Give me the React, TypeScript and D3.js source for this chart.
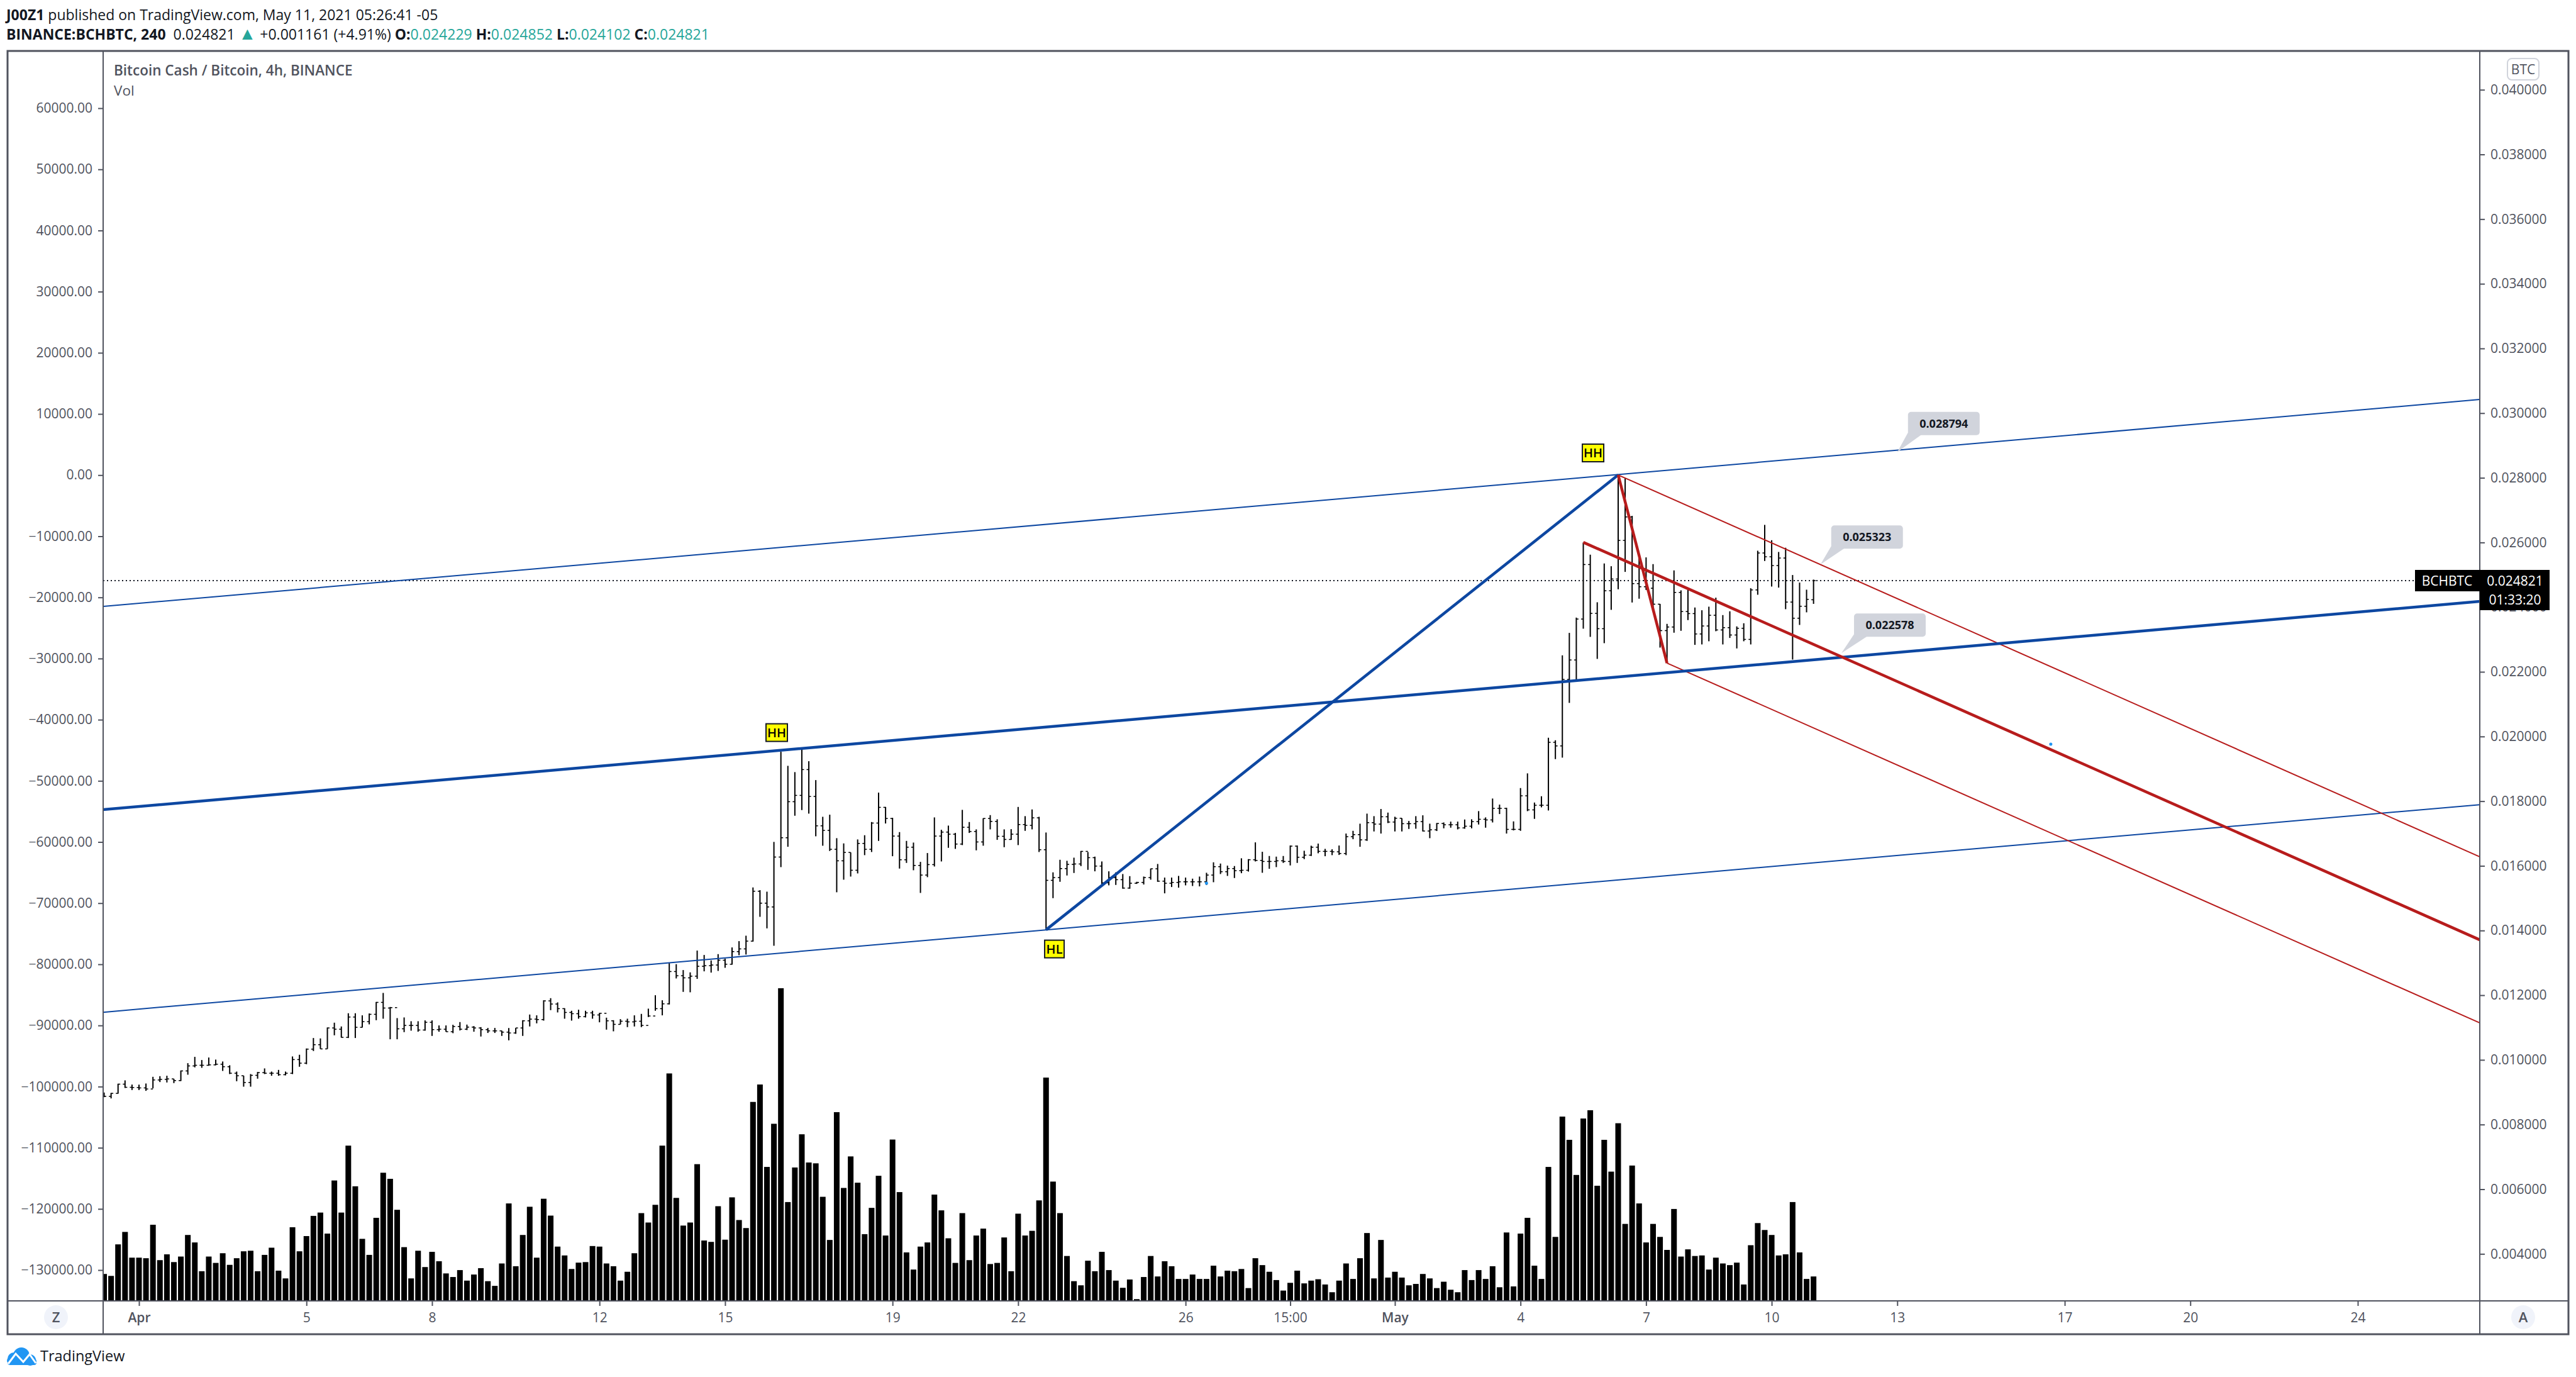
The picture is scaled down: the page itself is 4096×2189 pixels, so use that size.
import React, { useEffect, useRef } from 'react';
import * as d3 from 'd3';

// 4h bars, first one is 5 bars before Apr 1. Prices in 1e-6 BTC.
const firstBar = -5;

const opens = [
  8880, 8873, 8964, 9249, 9152, 9145, 9133, 9100, 9379, 9398, 9411, 9360,
  9658, 9813, 9833, 9833, 9846, 9866, 9788, 9587, 9509, 9301, 9522, 9606,
  9587, 9587, 9541, 9587, 10009, 9898, 10332, 10469, 10339, 10987, 10948, 10696,
  11325, 11007, 11182, 11409, 11778, 11603, 11616, 10961, 11065, 11065, 10923, 11162,
  10935, 10948, 10871, 11033, 10948, 11013, 10987, 10935, 10897, 10897, 10858, 10832,
  10987, 11208, 11260, 11247, 11824, 11727, 11584, 11467, 11428, 11337, 11454, 11389,
  11441, 11208, 11098, 11195, 11175, 11195, 11065, 11357, 11584, 11733, 12732, 12602,
  12537, 12589, 12894, 12913, 12933, 13082, 12958, 13348, 13432, 13672, 15215, 14846,
  14729, 16272, 16869, 17984, 18179, 18977, 18146, 17238, 17096, 16512, 16156, 16415,
  15864, 16694, 16512, 17323, 17809, 17465, 16921, 16188, 16577, 16013, 15715, 16039,
  16921, 17044, 16979, 16674, 17193, 17063, 16739, 17465, 17375, 16914, 16817, 16979,
  17278, 17252, 17485, 16499, 15552, 15637, 15916, 16045, 16058, 16447, 16253, 15993,
  15475, 15637, 15572, 15313, 15462, 15488, 15637, 15909, 15527, 15462, 15488, 15507,
  15507, 15507, 15507, 15715, 15974, 15819, 15916, 15851, 15864, 16188, 16169, 16136,
  16136, 16156, 16136, 16610, 16266, 16331, 16577, 16448, 16448, 16435, 16383, 16902,
  16966, 16804, 17336, 17291, 17518, 17355, 17472, 17304, 17304, 17368, 17077, 17115,
  17310, 17271, 17271, 17174, 17226, 17368, 17440, 17420, 17777, 17777, 17128, 17128,
  18166, 17731, 17874, 17874, 19820, 19709, 21765, 22367, 23632, 25318, 23807, 23334,
  24508, 24871, 26064, 26790, 24728, 24631, 24585, 24092, 23275, 23386, 24456, 23865,
  23801, 23171, 23418, 23749, 23295, 23366, 23139, 23347, 23003, 24533, 25675, 25558,
  25286, 25519, 24157, 23658, 24028, 24229,
];

const highs = [
  8990, 8977, 9262, 9366, 9236, 9236, 9269, 9476, 9496, 9509, 9411, 9671,
  9898, 10093, 9995, 10073, 10009, 9950, 9833, 9638, 9509, 9561, 9626, 9736,
  9638, 9690, 9638, 10106, 10158, 10352, 10676, 10663, 11001, 11150, 11033, 11442,
  11442, 11377, 11435, 11791, 12070, 11636, 11292, 11312, 11195, 11195, 11221, 11221,
  11065, 11065, 11085, 11169, 11091, 11045, 11013, 10987, 10987, 10903, 10987, 10987,
  11227, 11402, 11377, 11843, 11908, 11778, 11597, 11519, 11551, 11519, 11519, 11454,
  11305, 11227, 11260, 11273, 11377, 11422, 11584, 11999, 11843, 12991, 12959, 12777,
  12706, 13380, 13244, 13075, 13270, 13127, 13477, 13672, 13840, 15332, 15248, 15202,
  16740, 19528, 19093, 18899, 19593, 19236, 18652, 17517, 17582, 16856, 16694, 16415,
  16817, 16947, 17355, 18263, 17822, 17485, 17044, 16772, 16720, 16123, 16396, 17498,
  17115, 17245, 17018, 17731, 17355, 17128, 17472, 17569, 17440, 17128, 17135, 17822,
  17537, 17744, 17517, 17031, 15799, 16188, 16156, 16253, 16460, 16428, 16285, 16136,
  15831, 15799, 15747, 15682, 15507, 15669, 15916, 16058, 15637, 15637, 15689, 15637,
  15604, 15669, 15786, 16110, 16071, 16007, 15994, 16234, 16208, 16726, 16435, 16305,
  16285, 16305, 16629, 16629, 16467, 16623, 16688, 16525, 16512, 16629, 16999, 17083,
  17304, 17615, 17537, 17758, 17647, 17518, 17472, 17388, 17537, 17563, 17304, 17323,
  17342, 17368, 17368, 17433, 17440, 17693, 17498, 18082, 17894, 17796, 17375, 18406,
  18860, 17958, 18153, 19962, 19884, 22510, 23204, 23677, 25999, 25623, 24151, 25351,
  25266, 28087, 27990, 26823, 25590, 25539, 25331, 24099, 23483, 25137, 24520, 24598,
  23989, 23904, 24015, 24293, 23755, 23872, 23405, 23502, 24585, 25746, 26544, 26070,
  25707, 25837, 24994, 24760, 24540, 24852,
];

const lows = [
  8847, 8808, 8957, 9133, 9068, 9068, 9042, 9120, 9314, 9301, 9282, 9347,
  9541, 9768, 9755, 9820, 9833, 9658, 9561, 9340, 9171, 9171, 9418, 9561,
  9509, 9509, 9522, 9561, 9787, 9866, 10274, 10339, 10339, 10760, 10689, 10676,
  10676, 11001, 11098, 11227, 11273, 10637, 10637, 10858, 10903, 10871, 10903, 10741,
  10871, 10871, 10825, 10909, 10922, 10871, 10722, 10832, 10832, 10741, 10605, 10806,
  10741, 11033, 11130, 11214, 11538, 11467, 11273, 11214, 11273, 11312, 11273, 11162,
  10935, 10883, 11098, 11013, 11033, 11013, 11325, 11519, 11377, 11714, 12518, 12103,
  12090, 12505, 12738, 12699, 12751, 12848, 12945, 13237, 13257, 13659, 14424, 14067,
  13529, 15961, 16590, 17550, 17725, 17615, 16914, 16622, 16460, 15183, 15572, 15669,
  15766, 16331, 16428, 16772, 17310, 16298, 15916, 16091, 15864, 15163, 15650, 15980,
  16136, 16558, 16525, 16642, 17018, 16480, 16623, 17128, 16804, 16577, 16804, 16642,
  17083, 17128, 16428, 14015, 15001, 15507, 15702, 15780, 15993, 15877, 15831, 15423,
  15397, 15410, 15293, 15293, 15442, 15423, 15572, 15507, 15150, 15345, 15326, 15397,
  15377, 15365, 15410, 15494, 15747, 15689, 15624, 15773, 15825, 16136, 15786, 15909,
  15961, 16091, 16013, 16091, 16208, 16305, 16389, 16298, 16331, 16337, 16331, 16824,
  16590, 16772, 17064, 16999, 17323, 17064, 17064, 17141, 17148, 17064, 16856, 17077,
  17161, 17180, 17128, 17148, 17161, 17278, 17180, 17342, 17602, 16999, 17096, 17083,
  17692, 17453, 17809, 17712, 19301, 19347, 21040, 21705, 23334, 23081, 22400, 22886,
  23917, 24553, 25091, 24144, 24261, 24533, 23937, 22750, 22270, 23210, 23269, 23600,
  22834, 22847, 22945, 23256, 22847, 23048, 22724, 22945, 22847, 24384, 25428, 24637,
  24605, 23937, 22380, 23450, 23840, 24102,
];

const closes = [
  8873, 8964, 9249, 9152, 9145, 9133, 9100, 9379, 9398, 9411, 9360, 9658,
  9813, 9833, 9833, 9846, 9866, 9788, 9587, 9509, 9301, 9522, 9606, 9587,
  9587, 9541, 9587, 10009, 9898, 10332, 10469, 10339, 10987, 10948, 10696, 11325,
  11007, 11182, 11409, 11778, 11603, 11616, 10961, 11065, 11065, 10923, 11162, 10935,
  10948, 10871, 11033, 10948, 11013, 10987, 10935, 10897, 10897, 10858, 10832, 10987,
  11208, 11260, 11247, 11824, 11727, 11584, 11467, 11428, 11337, 11454, 11389, 11441,
  11208, 11098, 11195, 11175, 11195, 11065, 11357, 11584, 11733, 12732, 12602, 12537,
  12589, 12894, 12913, 12933, 13082, 12958, 13348, 13432, 13672, 15215, 14846, 14729,
  16272, 16869, 17984, 18179, 18977, 18146, 17238, 17096, 16512, 16156, 16415, 15864,
  16694, 16512, 17323, 17809, 17465, 16921, 16188, 16577, 16013, 15715, 16039, 16921,
  17044, 16979, 16674, 17193, 17063, 16739, 17465, 17375, 16914, 16817, 16979, 17278,
  17252, 17485, 16499, 15552, 15637, 15916, 16045, 16058, 16447, 16253, 15993, 15475,
  15637, 15572, 15313, 15462, 15488, 15637, 15909, 15527, 15462, 15488, 15507, 15507,
  15507, 15507, 15715, 15974, 15819, 15916, 15851, 15864, 16188, 16169, 16136, 16136,
  16156, 16136, 16610, 16266, 16331, 16577, 16448, 16448, 16435, 16383, 16902, 16966,
  16804, 17336, 17291, 17518, 17355, 17472, 17304, 17304, 17368, 17077, 17115, 17310,
  17271, 17271, 17174, 17226, 17368, 17440, 17420, 17777, 17777, 17128, 17128, 18166,
  17731, 17874, 17874, 19820, 19709, 21765, 22367, 23632, 25318, 23807, 23334, 24508,
  24871, 26064, 26790, 24728, 24631, 24585, 24092, 23275, 23386, 24456, 23865, 23801,
  23171, 23418, 23749, 23295, 23366, 23139, 23347, 23003, 24533, 25675, 25558, 25286,
  25519, 24157, 23658, 24028, 24242, 24821,
];

const volumes = [
  95, 88, 202, 247, 154, 154, 152, 273, 145, 166, 138, 158,
  236, 209, 105, 158, 135, 170, 128, 152, 177, 179, 105, 164,
  190, 107, 79, 264, 177, 232, 305, 317, 241, 433, 317, 559,
  412, 222, 164, 298, 461, 439, 327, 192, 79, 179, 120, 175,
  141, 97, 84, 109, 71, 93, 116, 69, 52, 133, 350, 123,
  236, 338, 154, 367, 306, 194, 162, 113, 136, 138, 196, 194,
  133, 123, 71, 103, 170, 315, 281, 345, 559, 820, 370, 270,
  281, 492, 216, 211, 340, 219, 372, 290, 261, 717, 780, 482,
  638, 1128, 355, 480, 600, 498, 495, 374, 218, 680, 406, 520,
  425, 239, 334, 450, 234, 581, 391, 173, 111, 194, 209, 382,
  325, 224, 135, 315, 145, 234, 259, 131, 135, 227, 105, 313,
  234, 251, 361, 805, 429, 315, 160, 69, 54, 143, 105, 175,
  109, 71, 45, 75, 4, 84, 160, 86, 141, 123, 77, 77,
  93, 77, 77, 125, 86, 107, 105, 113, 44, 152, 127, 103,
  73, 35, 63, 107, 61, 71, 76, 57, 29, 71, 133, 77,
  152, 243, 79, 218, 82, 103, 82, 54, 59, 95, 79, 44,
  67, 38, 29, 109, 73, 109, 77, 123, 47, 245, 50, 241,
  298, 125, 77, 482, 229, 664, 580, 453, 657, 687, 414, 580,
  465, 640, 276, 487, 350, 209, 276, 229, 182, 330, 158, 184,
  160, 162, 111, 154, 133, 127, 136, 57, 199, 279, 254, 236,
  162, 166, 355, 173, 77, 86,
];

const timeTicks = [0, 24, 42, 66, 84, 108, 126, 150, 165, 180, 198, 216, 234, 252, 276, 294, 318];
const timeLabels = ['Apr', '5', '8', '12', '15', '19', '22', '26', '15:00', 'May', '4', '7', '10', '13', '17', '20', '24'];

const priceTicks = d3.range(2, 21).map(d => d * 2000);
const leftTicks = d3.range(-13, 7).map(d => d * 10000);

// trend lines as [bar, price] pairs
const blueThin = [
  [[-5.14, 24022], [335.5, 30422]],
  [[-5.14, 11473], [335.5, 17893]],
];
const blueThick = [
  [[-5.14, 17738], [335.5, 24177]],
  [[130, 14022], [212, 28088]],
];
const redThin = [
  [[212, 28088], [335.5, 16279]],
  [[219, 22271], [335.5, 11143]],
];
const redThick = [
  [[212, 28088], [219, 22271]],
  [[207, 26006], [335.5, 13711]],
];

const markers = [
  { label: 'HH', bar: 91.4, price: 20121, w: 34 },
  { label: 'HL', bar: 131.2, price: 13429, w: 31 },
  { label: 'HH', bar: 208.4, price: 28769, w: 34 },
];
const callouts = [
  { bar: 252, price: 28794, dx: 17, dy: -27 },
  { bar: 241, price: 25323, dx: 17, dy: -25 },
  { bar: 244, price: 22578, dx: 20, dy: -26 },
];
const dots = [[153, 15462], [274, 19761]];
const lastPrice = 24821;

const W = 4096;
const H = 2189;
const left = 164;
const right = 3943;
const top = 81;
const bottom = 2068;
const outerR = 4084;
const outerB = 2121;
const axisColor = '#50535e';
const font = '"Open Sans", sans-serif';

const App: React.FC = () => {
  const svgRef = useRef<SVGSVGElement>(null);

  useEffect(() => {
    const svg = d3.select(svgRef.current);
    svg.selectAll('*').remove();

    const x = d3.scaleLinear().domain([0, 318]).range([221, 3749]);
    const y = d3.scaleLinear().domain([4000, 40000]).range([1993.3, 142.7]);
    const yLeft = d3.scaleLinear().domain([-130000, 60000]).range([2019, 172]);
    const yVol = d3.scaleLinear().domain([0, 1128]).range([2067, 1571]);

    svg.append('rect').attr('width', W).attr('height', H).attr('fill', '#fff');
    svg.append('defs').append('clipPath').attr('id', 'plot')
      .append('rect').attr('x', left).attr('y', top).attr('width', right - left).attr('height', bottom - top);

    const plot = svg.append('g').attr('clip-path', 'url(#plot)');

    // volume
    plot.append('g').selectAll('rect').data(volumes).enter().append('rect')
      .attr('x', (d, i) => x(i + firstBar) - 4.5)
      .attr('y', d => yVol(d))
      .attr('width', 9)
      .attr('height', d => yVol(0) - yVol(d))
      .attr('fill', '#000');

    // last price line
    plot.append('line')
      .attr('x1', left).attr('x2', right)
      .attr('y1', y(lastPrice)).attr('y2', y(lastPrice))
      .attr('stroke', '#131722').attr('stroke-width', 2).attr('stroke-dasharray', '2 4');

    // OHLC bars
    const bars = plot.append('g').selectAll('g').data(closes).enter().append('g');
    bars.append('line')
      .attr('x1', (d, i) => x(i + firstBar)).attr('x2', (d, i) => x(i + firstBar))
      .attr('y1', (d, i) => y(highs[i])).attr('y2', (d, i) => y(lows[i]))
      .attr('stroke', '#000').attr('stroke-width', 2);
    bars.append('line')
      .attr('x1', (d, i) => x(i + firstBar) - 3.5).attr('x2', (d, i) => x(i + firstBar))
      .attr('y1', (d, i) => y(opens[i])).attr('y2', (d, i) => y(opens[i]))
      .attr('stroke', '#000').attr('stroke-width', 1.5);
    bars.append('line')
      .attr('x1', (d, i) => x(i + firstBar)).attr('x2', (d, i) => x(i + firstBar) + 3.5)
      .attr('y1', d => y(d)).attr('y2', d => y(d))
      .attr('stroke', '#000').attr('stroke-width', 1.5);

    // trend lines
    const line = d3.line<number[]>().x(d => x(d[0])).y(d => y(d[1]));
    const drawLines = (rows: number[][][], color: string, width: number) => {
      plot.append('g').selectAll('path').data(rows).enter().append('path')
        .attr('d', d => line(d))
        .attr('fill', 'none')
        .attr('stroke', color)
        .attr('stroke-width', width);
    };
    drawLines(blueThin, '#0d47a1', 2);
    drawLines(redThin, '#b71c1c', 2);
    drawLines(blueThick, '#0d47a1', 4.5);
    drawLines(redThick, '#b71c1c', 4.5);

    plot.append('g').selectAll('circle').data(dots).enter().append('circle')
      .attr('cx', d => x(d[0])).attr('cy', d => y(d[1])).attr('r', 2.5).attr('fill', '#2196f3');

    // HH / HL markers
    const mk = plot.append('g').selectAll('g').data(markers).enter().append('g')
      .attr('transform', d => `translate(${x(d.bar)},${y(d.price)})`);
    mk.append('rect')
      .attr('x', d => -d.w / 2).attr('y', -14).attr('width', d => d.w).attr('height', 28)
      .attr('fill', '#ffff00').attr('stroke', '#131722').attr('stroke-width', 2);
    mk.append('text')
      .attr('text-anchor', 'middle').attr('y', 7)
      .attr('font-family', font).attr('font-size', 20).attr('font-weight', 600).attr('fill', '#000')
      .text(d => d.label);

    // price callouts
    const co = plot.append('g').selectAll('g').data(callouts).enter().append('g')
      .attr('transform', d => `translate(${x(d.bar)},${y(d.price)})`);
    co.append('path')
      .attr('d', d => `M0,0L${d.dx},${d.dy - 4}L${d.dx + 26},${d.dy - 4}Z`)
      .attr('fill', '#d1d4dc');
    co.append('rect')
      .attr('x', d => d.dx).attr('y', d => d.dy - 37)
      .attr('width', 114).attr('height', 37).attr('rx', 5)
      .attr('fill', '#d1d4dc');
    co.append('text')
      .attr('x', d => d.dx + 57).attr('y', d => d.dy - 12)
      .attr('text-anchor', 'middle')
      .attr('font-family', font).attr('font-size', 18).attr('font-weight', 700).attr('fill', '#131722')
      .text(d => (d.price / 1e6).toFixed(6));

    // axes
    const styleAxis = (g: any) => {
      g.attr('font-family', font).attr('font-size', 21);
      g.select('.domain').remove();
      g.selectAll('.tick line').attr('stroke', axisColor).attr('stroke-width', 2);
      g.selectAll('.tick text').attr('fill', axisColor);
    };

    svg.append('g').attr('transform', `translate(${left},0)`)
      .call(d3.axisLeft(yLeft).tickValues(leftTicks).tickSize(8).tickPadding(9).tickFormat(d3.format('.2f') as any))
      .call(styleAxis);
    svg.append('g').attr('transform', `translate(${right},0)`)
      .call(d3.axisRight(y).tickValues(priceTicks).tickSize(8).tickPadding(9).tickFormat((d: any) => (d / 1e6).toFixed(6)))
      .call(styleAxis);
    const xAxis = svg.append('g').attr('transform', `translate(0,${bottom})`)
      .call(d3.axisBottom(x).tickValues(timeTicks).tickSize(8).tickPadding(11).tickFormat((d: any, i: number) => timeLabels[i]))
      .call(styleAxis);
    xAxis.selectAll('.tick text').attr('font-weight', (d: any, i: number) => (timeLabels[i] === 'Apr' || timeLabels[i] === 'May' ? 600 : 400));

    // frame
    const frame = svg.append('g').attr('stroke', axisColor).attr('fill', 'none');
    frame.append('rect').attr('x', 12).attr('y', top).attr('width', outerR - 12).attr('height', outerB - top).attr('stroke-width', 3);
    frame.append('line').attr('x1', left).attr('x2', left).attr('y1', top).attr('y2', outerB).attr('stroke-width', 2);
    frame.append('line').attr('x1', right).attr('x2', right).attr('y1', top).attr('y2', outerB).attr('stroke-width', 2);
    frame.append('line').attr('x1', 12).attr('x2', outerR).attr('y1', bottom).attr('y2', bottom).attr('stroke-width', 2);

    // last price labels
    const py = y(lastPrice);
    svg.append('rect').attr('x', 3840).attr('y', py - 17).attr('width', right - 3840).attr('height', 34).attr('fill', '#000');
    svg.append('rect').attr('x', right).attr('y', py - 17).attr('width', 4054 - right).attr('height', 64).attr('fill', '#000');
    const lastText = [
      { t: 'BCHBTC', x: 3891, y: py + 8 },
      { t: (lastPrice / 1e6).toFixed(6), x: 3999, y: py + 8 },
      { t: '01:33:20', x: 3999, y: py + 38 },
    ];
    svg.append('g').selectAll('text').data(lastText).enter().append('text')
      .attr('x', d => d.x).attr('y', d => d.y)
      .attr('text-anchor', 'middle').attr('fill', '#fff')
      .attr('font-family', font).attr('font-size', 21)
      .text(d => d.t);

    // scale buttons
    svg.append('rect').attr('x', 3987).attr('y', 93).attr('width', 50).attr('height', 34).attr('rx', 7)
      .attr('fill', '#fff').attr('stroke', '#d1d4dc').attr('stroke-width', 2);
    svg.append('text').attr('x', 4012).attr('y', 118).attr('text-anchor', 'middle')
      .attr('font-family', font).attr('font-size', 21).attr('fill', axisColor).text('BTC');
    const buttons = [{ t: 'Z', x: 89 }, { t: 'A', x: 4012 }];
    const btn = svg.append('g').selectAll('g').data(buttons).enter().append('g');
    btn.append('circle').attr('cx', d => d.x).attr('cy', 2094).attr('r', 19).attr('fill', '#f0f3fa');
    btn.append('text').attr('x', d => d.x).attr('y', 2102).attr('text-anchor', 'middle')
      .attr('font-family', font).attr('font-size', 22).attr('font-weight', 600).attr('fill', axisColor)
      .text(d => d.t);

    // chart title
    svg.append('text').attr('x', 181).attr('y', 120).attr('font-family', font).attr('font-size', 22.5)
      .attr('font-weight', 600).attr('fill', axisColor).text('Bitcoin Cash / Bitcoin, 4h, BINANCE');
    svg.append('text').attr('x', 181).attr('y', 152).attr('font-family', font).attr('font-size', 22.5)
      .attr('fill', axisColor).text('Vol');

    // header
    const h1 = svg.append('text').attr('x', 10).attr('y', 32).attr('font-family', font).attr('font-size', 23).attr('fill', '#131722');
    h1.append('tspan').attr('font-weight', 700).text('J00Z1');
    h1.append('tspan').text(' published on TradingView.com, May 11, 2021 05:26:41 -05');

    const teal = '#26a69a';
    const h2 = svg.append('text').attr('x', 10).attr('y', 63).attr('font-family', font).attr('font-size', 23).attr('fill', '#131722');
    const parts: [string, boolean, string][] = [
      ['BINANCE:BCHBTC, 240', true, '#131722'],
      ['  0.024821 ', false, '#131722'],
      ['\u25B2', false, teal],
      [' +0.001161 (+4.91%) ', false, '#131722'],
      ['O:', true, '#131722'], ['0.024229 ', false, teal],
      ['H:', true, '#131722'], ['0.024852 ', false, teal],
      ['L:', true, '#131722'], ['0.024102 ', false, teal],
      ['C:', true, '#131722'], ['0.024821', false, teal],
    ];
    parts.forEach(p => {
      h2.append('tspan').attr('xml:space', 'preserve').attr('font-weight', p[1] ? 700 : 400).attr('fill', p[2])
        .attr('font-size', p[0] === '\u25B2' ? 28 : 23).text(p[0]);
    });

    // logo
    const logo = svg.append('g');
    logo.append('g').attr('fill', '#2196f3').selectAll('circle')
      .data([[34, 2155, 13], [22, 2160, 10], [48, 2162, 9], [17, 2163, 6]]).enter().append('circle')
      .attr('cx', d => d[0]).attr('cy', d => d[1]).attr('r', d => d[2]);
    logo.append('rect').attr('x', 12).attr('y', 2160).attr('width', 46).attr('height', 10).attr('rx', 4).attr('fill', '#2196f3');
    logo.append('polyline').attr('points', '13,2168 25,2152 37,2165 47,2153 57,2167')
      .attr('fill', 'none').attr('stroke', '#fff').attr('stroke-width', 3);
    svg.append('text').attr('x', 64).attr('y', 2164).attr('font-family', font).attr('font-size', 23.5)
      .attr('fill', '#131722').text('TradingView');
  }, []);

  return <svg ref={svgRef} width={W} height={H} style={{ position: 'absolute', left: 0, top: 0, display: 'block' }}></svg>;
};

export default App;
